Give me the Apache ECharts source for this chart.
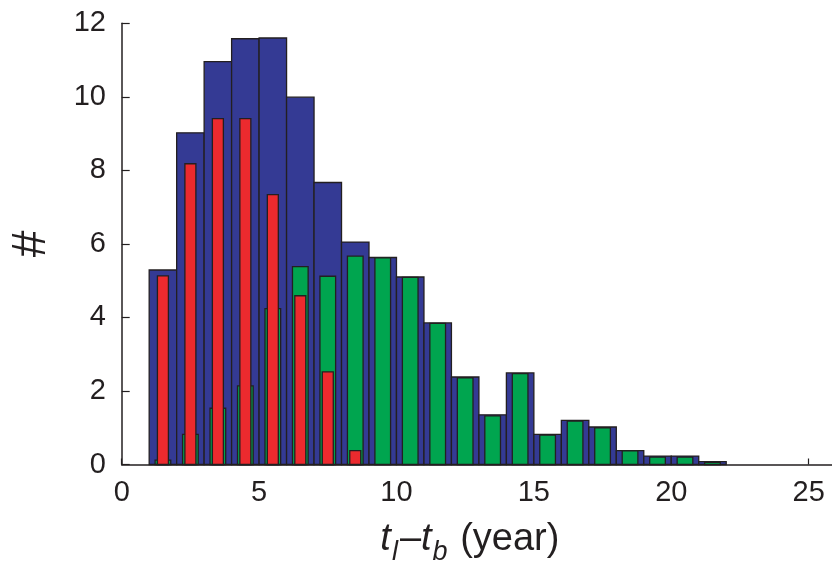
<!DOCTYPE html>
<html>
<head>
<meta charset="utf-8">
<script src="https://cdn.jsdelivr.net/npm/echarts@6/dist/echarts.min.js"></script>
<style>html,body{margin:0;padding:0;background:#fff;}#c{width:832px;height:564px;}</style>
</head>
<body>
<div id="c"></div>
<script>
// Bin centres (years) and counts
const binCenters = [1.5,2.5,3.5,4.5,5.5,6.5,7.5,8.5,9.5,10.5,11.5,12.5,13.5,14.5,15.5,16.5,17.5,18.5,19.5,20.5,21.5];
const blueValues = [5.29,9.02,10.96,11.58,11.60,9.99,7.67,6.05,5.63,5.10,3.85,2.38,1.35,2.49,0.82,1.20,1.02,0.38,0.23,0.23,0.08];
const greenValues = [0.12,0.82,1.53,2.14,4.24,5.38,5.12,5.67,5.62,5.09,3.84,2.36,1.32,2.47,0.80,1.18,1.00,0.37,0.20,0.20,0.06];
const redCenters = [1.5,2.5,3.5,4.5,5.5,6.5,7.5,8.5];
const redValues = [5.13,8.18,9.41,9.41,7.34,4.59,2.52,0.38];
const xTicks = [0,5,10,15,20,25];
const yTicks = [0,2,4,6,8,10,12];

function pairs(xs, ys){ return xs.map((x,i)=>[x, ys[i]]); }

function makeRender(width, color){
  return function(params, api){
    const x = api.value(0), y = api.value(1);
    const p0 = api.coord([x - width/2, 0]);
    const p1 = api.coord([x + width/2, y]);
    return {
      type: 'rect',
      shape: {x: p0[0], y: p1[1], width: p1[0]-p0[0], height: p0[1]-p1[1]},
      style: {fill: color, stroke: '#231f20', lineWidth: 1.3}
    };
  };
}

const chart = echarts.init(document.getElementById('c'), null, {renderer:'canvas'});
const font = 'Liberation Sans, Arial, Helvetica, sans-serif';
chart.setOption({
  animation: false,
  backgroundColor: '#fff',
  grid: {left: 121.7, right: 0, top: 23.3, bottom: 99.5, outerBoundsMode: 'none', containLabel: false},
  xAxis: {
    type: 'value', min: 0, max: 25.85, interval: 5,
    axisLine: {show: true, onZero: false, lineStyle: {color: '#231f20', width: 1.5}},
    axisTick: {show: true, inside: true, length: 6, lineStyle: {color: '#231f20', width: 1.2}},
    splitLine: {show: false},
    axisLabel: {showMaxLabel: false, fontSize: 29, color: '#231f20', fontFamily: font, margin: 14,
      formatter: v => xTicks.includes(v) ? String(v) : ''},
    name: '{i|t}{s|l}{n|–}{i|t}{s|b}{n| (year)}',
    nameLocation: 'middle', nameGap: 52,
    nameTextStyle: {
      fontFamily: font, color: '#231f20', padding: [0, 14, 0, 0],
      rich: {
        i: {fontSize: 38, fontStyle: 'italic', fontFamily: font, color: '#231f20', lineHeight: 42, verticalAlign: 'bottom'},
        s: {fontSize: 27, fontStyle: 'italic', fontFamily: font, color: '#231f20', lineHeight: 42, verticalAlign: 'bottom', padding: [0,2,-7,1]},
        n: {fontSize: 38, fontFamily: font, color: '#231f20', lineHeight: 42, verticalAlign: 'bottom'}
      }
    }
  },
  yAxis: {
    type: 'value', min: 0, max: 12, interval: 2,
    axisLine: {show: true, lineStyle: {color: '#231f20', width: 1.5}},
    axisTick: {show: true, inside: true, length: 8, lineStyle: {color: '#231f20', width: 1.2}},
    splitLine: {show: false},
    axisLabel: {fontSize: 29, color: '#231f20', fontFamily: font, margin: 15.7,
      formatter: v => yTicks.includes(v) ? String(v) : ''},
    name: '#', nameLocation: 'middle', nameGap: 66,
    nameTextStyle: {fontSize: 48, fontFamily: font, color: '#231f20'}
  },
  series: [
    {type: 'custom', renderItem: makeRender(1.0, '#343a94'), data: pairs(binCenters, blueValues), z: 2, encode: {x: 0, y: 1}},
    {type: 'custom', renderItem: makeRender(0.57, '#00a54f'), data: pairs(binCenters, greenValues), z: 3, encode: {x: 0, y: 1}},
    {type: 'custom', renderItem: makeRender(0.40, '#ec2a2e'), data: pairs(redCenters, redValues), z: 4, encode: {x: 0, y: 1}}
  ]
});
</script>
</body>
</html>
